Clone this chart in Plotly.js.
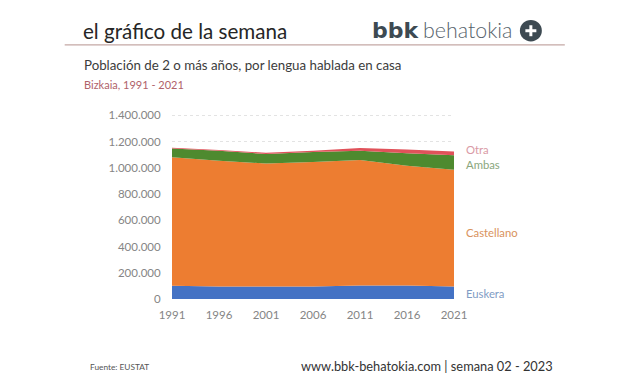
<!DOCTYPE html>
<html><head><meta charset="utf-8">
<script src="https://cdn.plot.ly/plotly-3.0.1.min.js"></script>
<style>html,body{margin:0;padding:0;background:#fff}#c{width:627px;height:376px}</style>
</head><body><div id="c"></div>
<script>
const years = [1991,1996,2001,2006,2011,2016,2021];
const euskera = [101000,95000,95000,95000,103000,103000,95000];
const castellano = [979000,958000,938000,950000,957000,912000,890000];
const ambas = [68000,77000,72000,75000,70000,95000,110000];
const otra = [5000,5000,10000,10000,20000,30000,30000];
const yTicks = [0,200000,400000,600000,800000,1000000,1200000,1400000];
const yLabels = ['0','200.000','400.000','600.000','800.000','1.000.000','1.200.000','1.400.000'];
const seriesNames = ['Euskera','Castellano','Ambas','Otra'];
const seriesColors = ['#4472c4','#ed7d31','#4e8a2f','#e0525a'];
const labelColors = ['#7f9cc4','#d9925c','#8aa67c','#d99aa5'];
const labelY = [293.5,232.5,164,149];
const font = 'Lato, "Open Sans", sans-serif';
const values = [euskera,castellano,ambas,otra];
const W = 282.5, H = 185.3, X0 = 171.5, Y0 = 299;
const px = x => (x-X0)/W, py = y => (Y0-y)/H;

const traces = values.map((v,i)=>({
  x: years, y: v, name: seriesNames[i], type:'scatter', mode:'none',
  stackgroup:'one', fillcolor: seriesColors[i], line:{width:0}, hoverinfo:'none'
}));
function txt(x,y,text,size,color,extra){
  return Object.assign({xref:'paper',yref:'paper',x:px(x-2.5),y:py(y),text,showarrow:false,
    xanchor:'left',yanchor:'middle',font:{family:font,size,color}},extra||{});
}
const annotations = [
  txt(83,31,'el gráfico de la semana',20.6,'#262626'),
  txt(372,30,'<b>bbk</b>',22,'#3d4a52',{font:{family:'"DejaVu Sans", sans-serif',size:22,color:'#3d4a52'}}),
  txt(423,30,'behatokia',21.4,'#56636b',{font:{family:font,size:21.4,color:'#56636b',weight:300}}),
  txt(84,65,'Población de 2 o más años, por lengua hablada en casa',13.3,'#3c3c3c'),
  txt(84,84,'Bizkaia, 1991 - 2021',11,'#b0626a'),
  txt(90,367,'Fuente: EUSTAT',8.3,'#555555'),
  txt(301,366,'www.bbk-behatokia.com | semana 02 - 2023',12.8,'#333333')
];
seriesNames.forEach((n,i)=>annotations.push(txt(467,labelY[i],n,11.3,labelColors[i])));
const rect=(x0,y0,x1,y1,c)=>({type:'rect',xref:'paper',yref:'paper',x0:px(x0),x1:px(x1),y0:py(y1),y1:py(y0),fillcolor:c,line:{width:0}});
const layout = {
  width:627,height:376,showlegend:false,
  paper_bgcolor:'#fff',plot_bgcolor:'#fff',
  margin:{l:X0,r:627-X0-W,t:376-77-H,b:77,pad:0},
  font:{family:font,color:'#7f7f7f',size:11.5},
  xaxis:{range:[1991,2021],tickvals:years,ticktext:years.map(String),
    showgrid:false,zeroline:false,showline:false,ticks:'outside',ticklen:5,tickcolor:'rgba(0,0,0,0)',
    tickfont:{size:11.5,color:'#858585'},automargin:false},
  yaxis:{range:[0,1410000],tickvals:yTicks,ticktext:yLabels,showgrid:true,gridcolor:'#e3e3e3',griddash:'dot',gridwidth:1,
    zeroline:false,showline:false,ticks:'outside',ticklen:8,tickcolor:'rgba(0,0,0,0)',
    tickfont:{size:11.5,color:'#858585'},automargin:false},
  shapes:[
    {type:'line',xref:'paper',yref:'paper',x0:px(64),x1:px(565),y0:py(44.5),y1:py(44.5),line:{color:'#c4a8a5',width:1.3}},
    {type:'circle',xref:'paper',yref:'paper',x0:px(520),x1:px(542),y0:py(41),y1:py(19.5),fillcolor:'#3d4a52',line:{width:0}},
    rect(525.5,28.8,536.5,31.8,'#ffffff'),
    rect(529.5,24.8,532.5,35.8,'#ffffff')
  ],
  annotations
};
Plotly.newPlot('c',traces,layout,{displayModeBar:false,staticPlot:true});
</script></body></html>
